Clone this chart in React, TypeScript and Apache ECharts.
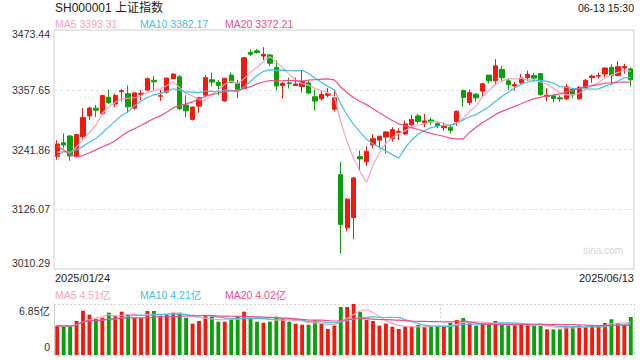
import React, { useEffect, useRef } from "react";
import * as echarts from "echarts";

const titleText = "SH000001 上证指数";
const quoteTime = "06-13 15:30";
const watermark = "sina.com";

const dates = [
  "2025/01/24", "2025/01/27", "2025/02/05", "2025/02/06", "2025/02/07", "2025/02/10", "2025/02/11", "2025/02/12", "2025/02/13", "2025/02/14",
  "2025/02/17", "2025/02/18", "2025/02/19", "2025/02/20", "2025/02/21", "2025/02/24", "2025/02/25", "2025/02/26", "2025/02/27", "2025/02/28",
  "2025/03/03", "2025/03/04", "2025/03/05", "2025/03/06", "2025/03/07", "2025/03/10", "2025/03/11", "2025/03/12", "2025/03/13", "2025/03/14",
  "2025/03/17", "2025/03/18", "2025/03/19", "2025/03/20", "2025/03/21", "2025/03/24", "2025/03/25", "2025/03/26", "2025/03/27", "2025/03/28",
  "2025/03/31", "2025/04/01", "2025/04/02", "2025/04/03", "2025/04/07", "2025/04/08", "2025/04/09", "2025/04/10", "2025/04/11", "2025/04/14",
  "2025/04/15", "2025/04/16", "2025/04/17", "2025/04/18", "2025/04/21", "2025/04/22", "2025/04/23", "2025/04/24", "2025/04/25", "2025/04/28",
  "2025/04/29", "2025/04/30", "2025/05/06", "2025/05/07", "2025/05/08", "2025/05/09", "2025/05/12", "2025/05/13", "2025/05/14", "2025/05/15",
  "2025/05/16", "2025/05/19", "2025/05/20", "2025/05/21", "2025/05/22", "2025/05/23", "2025/05/26", "2025/05/27", "2025/05/28", "2025/05/29",
  "2025/05/30", "2025/06/03", "2025/06/04", "2025/06/05", "2025/06/06", "2025/06/09", "2025/06/10", "2025/06/11", "2025/06/12", "2025/06/13",
];

const opens = [
  3228, 3255, 3268, 3228, 3267, 3307, 3322, 3312, 3343, 3330,
  3354, 3350, 3322, 3349, 3357, 3376, 3345, 3353, 3379, 3383,
  3328, 3300, 3326, 3347, 3377, 3372, 3336, 3386, 3370, 3360,
  3430, 3433, 3423, 3425, 3401, 3366, 3371, 3366, 3364, 3371,
  3344, 3340, 3347, 3320, 3193, 3090, 3110, 3228, 3218, 3251,
  3260, 3266, 3263, 3275, 3272, 3290, 3307, 3294, 3299, 3292,
  3284, 3285, 3296, 3356, 3333, 3349, 3355, 3386, 3375, 3397,
  3375, 3365, 3371, 3381, 3385, 3389, 3345, 3346, 3342, 3340,
  3359, 3340, 3362, 3381, 3384, 3388, 3401, 3385, 3400, 3398,
];

const closes = [
  3252.63, 3250.60, 3229.49, 3270.66, 3303.67, 3322.17, 3318.06, 3346.39, 3332.48, 3346.72,
  3355.83, 3324.49, 3351.54, 3350.78, 3379.11, 3373.03, 3346.04, 3380.21, 3388.06, 3320.90,
  3316.93, 3324.21, 3341.96, 3381.10, 3372.55, 3366.16, 3379.83, 3371.92, 3358.73, 3419.56,
  3426.43, 3429.76, 3426.30, 3408.95, 3364.83, 3370.03, 3369.98, 3368.70, 3373.75, 3351.31,
  3335.75, 3348.44, 3350.13, 3342.01, 3096.58, 3145.55, 3186.81, 3223.64, 3238.23, 3262.81,
  3267.66, 3276.00, 3280.34, 3276.73, 3291.43, 3299.76, 3296.36, 3297.29, 3295.06, 3288.41,
  3286.65, 3279.03, 3316.11, 3342.67, 3352.00, 3342.00, 3369.24, 3374.87, 3403.95, 3380.82,
  3367.46, 3367.58, 3380.48, 3387.57, 3380.19, 3348.37, 3346.84, 3340.69, 3339.93, 3363.45,
  3347.49, 3361.98, 3376.20, 3384.10, 3385.36, 3399.77, 3384.82, 3402.32, 3402.66, 3377.00,
];

const lows = [
  3222, 3244, 3220, 3226, 3263, 3299, 3305, 3309, 3330, 3324,
  3335, 3313, 3319, 3337, 3356, 3356, 3336, 3350, 3378, 3318,
  3304, 3298, 3313, 3343, 3364, 3347, 3334, 3370, 3341, 3358,
  3423, 3428, 3415, 3404, 3356, 3340, 3360, 3365, 3352, 3349,
  3317, 3337, 3343, 3316, 3040.69, 3083, 3068, 3202, 3210, 3244,
  3244, 3234, 3257, 3260, 3270, 3287, 3292, 3285, 3289, 3283,
  3278, 3273, 3288, 3325, 3328, 3334, 3344, 3370, 3369, 3375,
  3357, 3356, 3368, 3375, 3373, 3346, 3335, 3333, 3334, 3338,
  3341, 3338, 3360, 3371, 3380, 3383, 3367, 3384, 3389, 3364,
];

const highs = [
  3260, 3273, 3270, 3272, 3322, 3325, 3328, 3348, 3358, 3350,
  3359, 3366, 3352, 3357, 3381, 3384, 3357, 3381, 3390, 3386,
  3347, 3325, 3344, 3386, 3391, 3377, 3380, 3391, 3377, 3421,
  3436, 3437, 3440, 3427, 3415, 3373, 3381, 3381, 3394, 3375,
  3358, 3356, 3361, 3358, 3217, 3148, 3189, 3240, 3248, 3272,
  3268, 3277, 3285, 3283, 3298, 3309, 3311, 3311, 3304, 3296,
  3294, 3289, 3317, 3358, 3358, 3351, 3371, 3386, 3417, 3404,
  3380, 3373, 3388, 3395, 3390, 3390, 3361, 3349, 3347, 3369,
  3360, 3365, 3378, 3387, 3391, 3401, 3407, 3413, 3408, 3401,
];

// volume, 亿
const volumes = [
  3.94, 3.80, 3.94, 4.57, 5.95, 5.42, 4.88, 5.01, 5.69, 5.28,
  5.82, 5.46, 5.01, 4.97, 5.91, 5.91, 5.28, 5.42, 5.69, 5.69,
  5.01, 4.21, 4.57, 5.28, 5.15, 4.48, 4.48, 4.79, 5.10, 5.82,
  4.92, 4.48, 4.34, 4.48, 5.15, 4.92, 4.48, 4.21, 4.07, 4.07,
  4.70, 4.25, 3.49, 3.94, 6.45, 6.45, 6.85, 5.77, 4.70, 4.57,
  3.94, 4.21, 3.80, 3.49, 3.80, 3.80, 4.03, 3.80, 3.80, 3.94,
  3.80, 4.30, 4.70, 4.97, 4.25, 3.94, 4.25, 4.25, 4.57, 4.07,
  3.98, 3.98, 4.16, 3.98, 3.98, 3.94, 3.45, 3.45, 3.45, 3.93,
  3.85, 3.95, 3.75, 4.05, 3.95, 4.30, 4.80, 4.30, 4.05, 5.10,
];

// closes of the 19 sessions before the first shown day (for MA20)
const priorCloses = [
  3400.14, 3407.33, 3351.76, 3262.56, 3211.43, 3206.92, 3229.64, 3230.17, 3211.39, 3168.52,
  3160.76, 3240.94, 3227.12, 3236.03, 3241.82, 3244.38, 3242.62, 3213.62, 3230.16,
];

const yTickLabels = ["3010.29", "3126.07", "3241.86", "3357.65", "3473.44"];
const volTickLabels = ["0", "6.85亿"];
const maPeriods = [5, 10, 20];

const RED = "#f2190e";
const GREEN = "#0aa00b";
const MA_COLORS = ["#f7a3c2", "#3fc3e1", "#ee4f86"];
const FONT = "'Liberation Sans', Arial, 'Noto Sans CJK SC', sans-serif";

function priceMA(n: number): number[] {
  const all = priorCloses.concat(closes);
  const off = priorCloses.length;
  return closes.map((_, i) => {
    let s = 0;
    for (let k = i + off - n + 1; k <= i + off; k++) s += all[k];
    return s / n;
  });
}

function volMA(n: number): number[] {
  return volumes.map((_, i) => {
    const start = Math.max(0, i - n + 1);
    let s = 0;
    for (let k = start; k <= i; k++) s += volumes[k];
    return s / (i - start + 1);
  });
}

export default function App() {
  const ref = useRef<HTMLDivElement>(null);

  useEffect(() => {
    document.body.style.margin = "0";
    if (!ref.current) return;
    const chart = echarts.init(ref.current, null, { renderer: "svg" });

    const yMin = parseFloat(yTickLabels[0]);
    const yMax = parseFloat(yTickLabels[yTickLabels.length - 1]);
    const yStep = (yMax - yMin) / (yTickLabels.length - 1);
    const vMax = parseFloat(volTickLabels[1]);

    const pMAs = maPeriods.map((n) => priceMA(n));
    const vMAs = maPeriods.map((n) => volMA(n));

    const kData = closes.map((c, i) => [opens[i], c, lows[i], highs[i]]);
    const volData = volumes.map((v, i) => ({
      value: v,
      itemStyle: { color: closes[i] >= opens[i] ? RED : GREEN },
    }));

    const legendTexts = (vals: number[][], suffix: string, y: number) =>
      maPeriods.map((n, k) => ({
        type: "text",
        x: [55, 140, 225][k],
        y,
        style: {
          text: `MA${n} ${vals[k][vals[k].length - 1].toFixed(2)}${suffix}`,
          fill: MA_COLORS[k],
          fontSize: 10.5,
          fontFamily: FONT,
          align: "left",
          verticalAlign: "middle",
        },
      }));

    const option: any = {
      animation: false,
      backgroundColor: "#fff",
      textStyle: { fontFamily: FONT },
      grid: [
        { left: 54, right: 6, top: 30, height: 239, show: true, borderColor: "#cfcfcf", borderWidth: 1 },
        { left: 54, right: 6, top: 304, height: 51 },
      ],
      xAxis: [
        {
          type: "category",
          gridIndex: 0,
          data: dates,
          boundaryGap: true,
          axisLine: { show: false },
          axisTick: { show: false },
          axisLabel: { show: false },
          splitLine: { show: false },
        },
        {
          type: "category",
          gridIndex: 1,
          data: dates,
          boundaryGap: true,
          axisLine: { show: false },
          axisTick: { show: false },
          axisLabel: { show: false },
          splitLine: { show: true, interval: 29, lineStyle: { color: "#dadada", type: [2, 2] } },
        },
      ],
      yAxis: [
        {
          type: "value",
          gridIndex: 0,
          min: yMin,
          max: yMax,
          interval: yStep,
          axisLine: { show: false },
          axisTick: { show: false },
          splitLine: { show: true, lineStyle: { color: "#e3e3e3", type: [3, 3] } },
          axisLabel: {
            color: "#333",
            fontSize: 10.5,
            fontFamily: FONT,
            margin: 4,
            formatter: (v: number) => {
              const idx = Math.round((v - yMin) / yStep);
              const s = yTickLabels[idx] ?? "";
              if (idx === 0) return `{lo|${s}}`;
              if (idx === yTickLabels.length - 1) return `{hi|${s}}`;
              return s;
            },
            rich: {
              lo: { fontSize: 10.5, color: "#333", fontFamily: FONT, padding: [0, 0, 12, 0] },
              hi: { fontSize: 10.5, color: "#333", fontFamily: FONT, padding: [8, 0, 0, 0] },
            },
          },
        },
        {
          type: "value",
          gridIndex: 1,
          min: 0,
          max: vMax,
          interval: vMax,
          axisLine: { show: true, lineStyle: { color: "#cfcfcf" } },
          axisTick: { show: false },
          splitLine: { show: true, lineStyle: { color: "#d6d6d6", type: [2, 2] } },
          axisLabel: {
            color: "#333",
            fontSize: 10.5,
            fontFamily: FONT,
            margin: 4,
            formatter: (v: number) => (v === 0 ? `{lo|${volTickLabels[0]}}` : `{hi|${volTickLabels[1]}}`),
            rich: {
              lo: { fontSize: 10.5, color: "#333", fontFamily: FONT, padding: [0, 0, 16, 0] },
              hi: { fontSize: 10.5, color: "#333", fontFamily: FONT, padding: [14, 0, 0, 0] },
            },
          },
        },
      ],
      series: [
        {
          type: "candlestick",
          xAxisIndex: 0,
          yAxisIndex: 0,
          data: kData,
          barWidth: "76%",
          itemStyle: {
            color: RED,
            color0: GREEN,
            borderColor: RED,
            borderColor0: GREEN,
            borderWidth: 1,
          },
        },
        ...pMAs.map((d, k) => ({
          type: "line",
          xAxisIndex: 0,
          yAxisIndex: 0,
          data: d,
          symbol: "none",
          smooth: false,
          lineStyle: { color: MA_COLORS[k], width: 1.2 },
          z: 3,
        })),
        {
          type: "bar",
          xAxisIndex: 1,
          yAxisIndex: 1,
          data: volData,
          barWidth: "60%",
        },
        ...vMAs.map((d, k) => ({
          type: "line",
          xAxisIndex: 1,
          yAxisIndex: 1,
          data: d,
          symbol: "none",
          smooth: true,
          lineStyle: { color: MA_COLORS[k], width: 1.2 },
          z: 3,
        })),
      ],
      graphic: [
        {
          type: "text",
          x: 55,
          y: 8,
          style: { text: titleText, fill: "#222", fontSize: 12, fontFamily: FONT, align: "left", verticalAlign: "middle" },
        },
        {
          type: "text",
          x: 634,
          y: 8,
          style: { text: quoteTime, fill: "#222", fontSize: 10.5, fontFamily: FONT, align: "right", verticalAlign: "middle" },
        },
        ...legendTexts(pMAs, "", 24),
        ...legendTexts(vMAs, "亿", 295),
        {
          type: "text",
          x: 55,
          y: 278,
          style: { text: dates[0], fill: "#222", fontSize: 11, fontFamily: FONT, align: "left", verticalAlign: "middle" },
        },
        {
          type: "text",
          x: 634,
          y: 278,
          style: { text: dates[dates.length - 1], fill: "#222", fontSize: 11, fontFamily: FONT, align: "right", verticalAlign: "middle" },
        },
        {
          type: "text",
          x: 623,
          y: 250,
          z: 0,
          style: { text: watermark, fill: "#d6d6d6", fontSize: 10, fontFamily: FONT, align: "right", verticalAlign: "middle" },
        },
      ],
    };

    chart.setOption(option);
    return () => chart.dispose();
  }, []);

  return <div ref={ref} style={{ width: 640, height: 360 }} />;
}
